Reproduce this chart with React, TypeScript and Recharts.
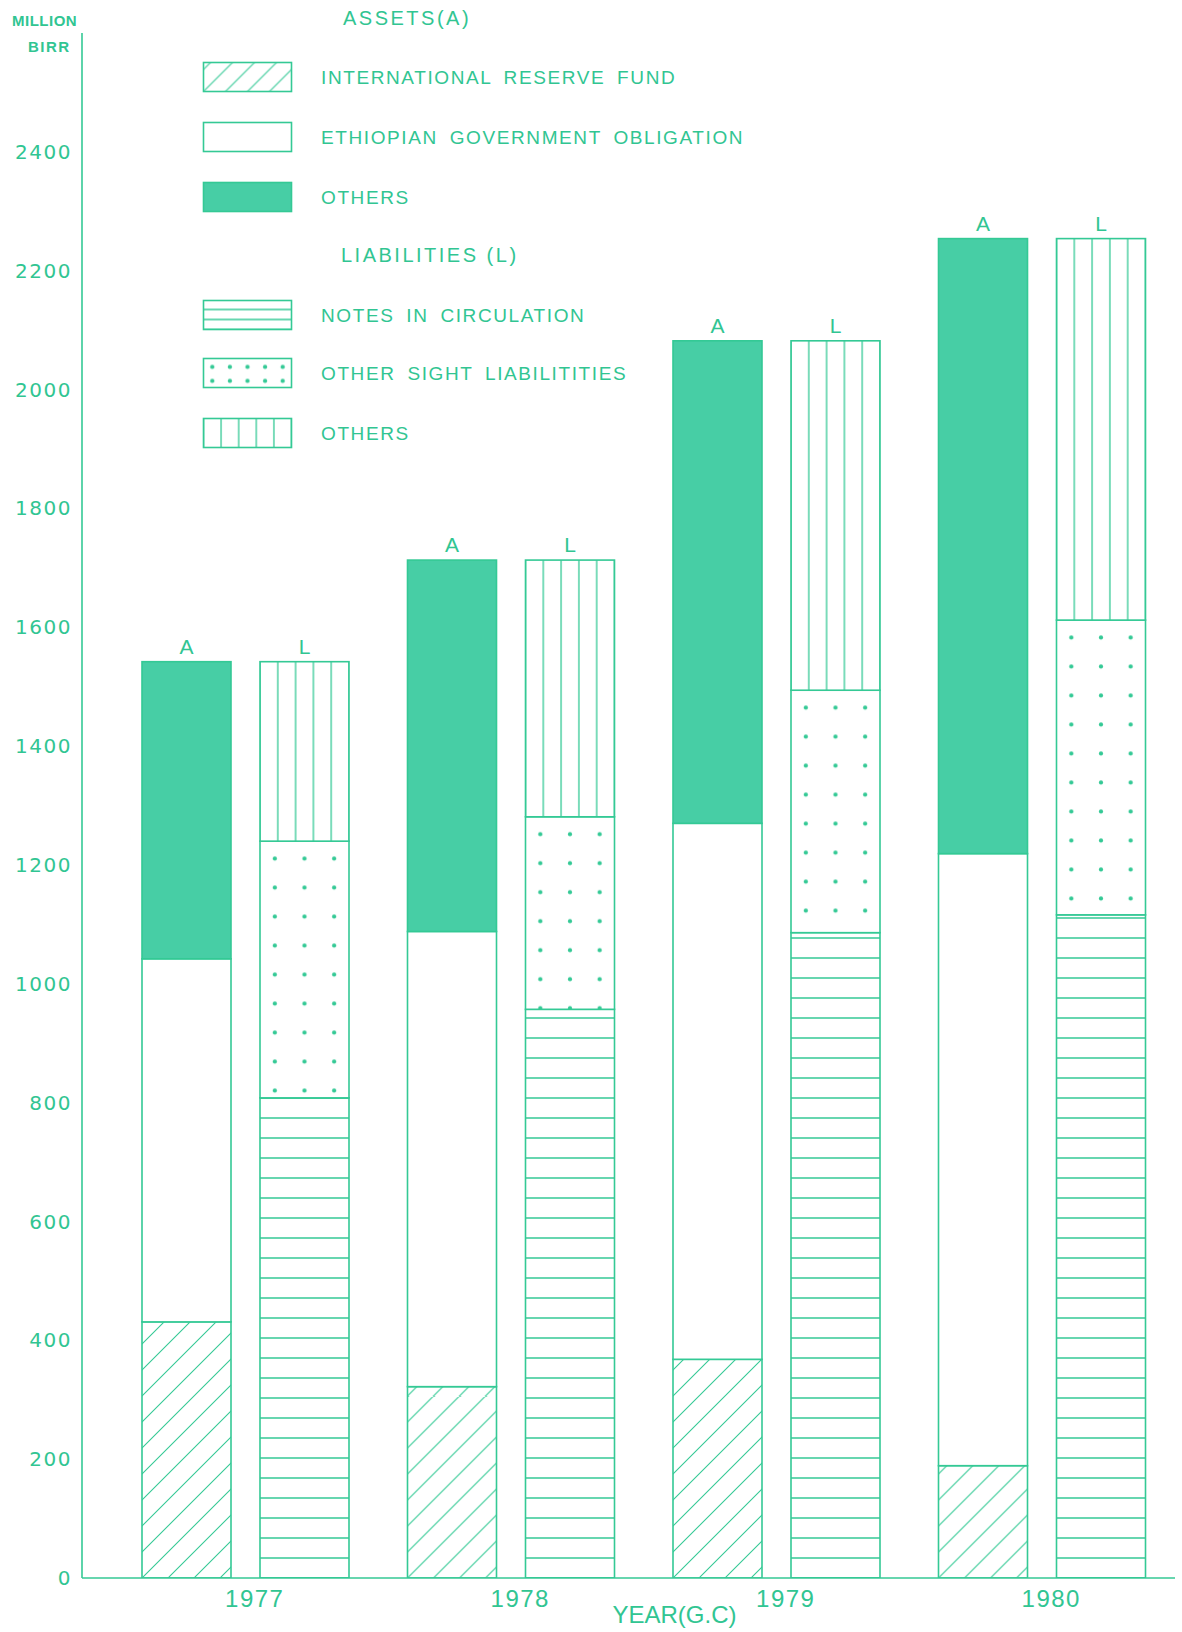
import { BarChart, Bar, XAxis, YAxis, LabelList } from 'recharts';

const YEARS = ['1977', '1978', '1979', '1980'];
// assets (A)
const RESERVE_FUND = [431, 322, 368, 189];
const GOVT_OBLIGATION = [611, 766, 902, 1030];
const OTHER_ASSETS = [500, 625, 812, 1035];
// liabilities (L)
const NOTES = [808, 957, 1086, 1116];
const SIGHT_LIAB = [432, 324, 408, 496];
const OTHER_LIAB = [302, 432, 588, 642];
const Y_TICKS = [0, 200, 400, 600, 800, 1000, 1200, 1400, 1600, 1800, 2000, 2200, 2400];

const LINE = '#34c995';
const TEXT = '#31c592';
const SOLID = '#47cea5';
const FONT = '"Liberation Sans", Arial, sans-serif';

const data = YEARS.map((year, i) => ({
  year,
  reserve: RESERVE_FUND[i],
  obligation: GOVT_OBLIGATION[i],
  otherAssets: OTHER_ASSETS[i],
  notes: NOTES[i],
  sight: SIGHT_LIAB[i],
  otherLiab: OTHER_LIAB[i],
}));

type Kind = 'hatch' | 'blank' | 'solid' | 'hlines' | 'dots' | 'vlines';

function PatternRect({ kind, x, y, width, height, uid, cols = 3, step = 20, row = 29, hatch = 26 }: any) {
  if (!width || !height) return null;
  const id = `pat-${uid}`;
  const sw = 1.3;
  let pattern: any = null;
  if (kind === 'hatch') {
    const s = hatch;
    pattern = (
      <pattern id={id} patternUnits="userSpaceOnUse" x={x} y={y + height} width={s} height={s}>
        <path d={`M0,${s} L${s},0 M${-s / 4},${s / 4} L${s / 4},${-s / 4} M${(3 * s) / 4},${(5 * s) / 4} L${(5 * s) / 4},${(3 * s) / 4}`} stroke={LINE} strokeWidth={1.1} />
      </pattern>
    );
  } else if (kind === 'hlines') {
    pattern = (
      <pattern id={id} patternUnits="userSpaceOnUse" x={x} y={y + height - step / 2} width={width} height={step}>
        <line x1={0} y1={step / 2} x2={width} y2={step / 2} stroke={LINE} strokeWidth={sw} />
      </pattern>
    );
  } else if (kind === 'vlines') {
    const w = width / 5;
    pattern = (
      <pattern id={id} patternUnits="userSpaceOnUse" x={x - w / 2} y={y} width={w} height={height}>
        <line x1={w / 2} y1={0} x2={w / 2} y2={height} stroke={LINE} strokeWidth={sw} />
      </pattern>
    );
  } else if (kind === 'dots') {
    const w = width / cols;
    pattern = (
      <pattern id={id} patternUnits="userSpaceOnUse" x={x} y={y} width={w} height={row}>
        <circle cx={w / 2} cy={row * 0.6} r={2.1} fill={LINE} />
      </pattern>
    );
  }
  const fill = kind === 'solid' ? SOLID : kind === 'blank' ? '#ffffff' : `url(#${id})`;
  return (
    <g>
      {pattern && <defs>{pattern}</defs>}
      {pattern && <rect x={x} y={y} width={width} height={height} fill="#ffffff" />}
      <rect x={x} y={y} width={width} height={height} fill={fill} stroke={LINE} strokeWidth={1.6} />
    </g>
  );
}

const shapeOf = (kind: Kind) => (p: any) => (
  <PatternRect kind={kind} x={p.x} y={p.y} width={p.width} height={p.height} uid={`${kind}-${p.index}`} />
);

const LEGEND_ITEMS = [
  { kind: 'hatch', label: 'INTERNATIONAL RESERVE FUND', top: 62 },
  { kind: 'blank', label: 'ETHIOPIAN GOVERNMENT OBLIGATION', top: 122 },
  { kind: 'solid', label: 'OTHERS', top: 182 },
  { kind: 'hlines', label: 'NOTES IN CIRCULATION', top: 300 },
  { kind: 'dots', label: 'OTHER SIGHT LIABILITITIES', top: 358 },
  { kind: 'vlines', label: 'OTHERS', top: 418 },
];

function ChartLegend() {
  const title: any = { position: 'absolute', color: TEXT, fontFamily: FONT, fontSize: 20, letterSpacing: 2.5, lineHeight: '24px', whiteSpace: 'nowrap' };
  return (
    <div style={{ position: 'absolute', left: 0, top: 0 }}>
      <div style={{ ...title, left: 343, top: 6 }}>ASSETS(A)</div>
      <div style={{ ...title, left: 341, top: 243 }}>LIABILITIES (L)</div>
      {LEGEND_ITEMS.map((it) => (
        <div key={it.label + it.top} style={{ position: 'absolute', left: 202, top: it.top - 1 }}>
          <svg width={92} height={32} style={{ position: 'absolute', left: 0, top: 0 }}>
            <PatternRect kind={it.kind} x={1.5} y={1.5} width={88} height={29} uid={`lg-${it.top}`} cols={5} step={10} row={14} hatch={22} />
          </svg>
          <div
            style={{
              position: 'absolute', left: 119, top: 1, lineHeight: '31px', whiteSpace: 'nowrap',
              color: TEXT, fontFamily: FONT, fontSize: 19, letterSpacing: 1.6, wordSpacing: 5,
            }}
          >
            {it.label}
          </div>
        </div>
      ))}
    </div>
  );
}

export default function App() {
  return (
    <div style={{ position: 'absolute', left: 0, top: 0, width: 1182, height: 1632, background: '#fff' }}>
      <BarChart width={1182} height={1632} data={data} margin={{ top: 33, right: 7, bottom: 0, left: 0 }} barGap={29} barSize={89}>
        <XAxis
          dataKey="year"
          height={54}
          padding={{ left: 31, right: 0 }}
          axisLine={{ stroke: LINE, strokeWidth: 1.6 }}
          tickLine={false}
          tickSize={0}
          tickMargin={12}
          tick={{ fill: TEXT, fontSize: 24, fontFamily: FONT, dx: 9, letterSpacing: 1.5 }}
          label={{ value: 'YEAR(G.C)', position: 'insideBottom', offset: 9, dx: 46, fill: TEXT, fontSize: 24, fontFamily: FONT }}
        />
        <YAxis
          width={82}
          domain={[0, 2600]}
          ticks={Y_TICKS}
          interval={0}
          allowDataOverflow
          axisLine={{ stroke: LINE, strokeWidth: 1.6 }}
          tickLine={false}
          tickSize={0}
          tickMargin={10}
          tick={{ fill: TEXT, fontSize: 20, fontFamily: '"DejaVu Sans", sans-serif', letterSpacing: 1.5 }}
        />
        <Bar dataKey="reserve" stackId="a" shape={shapeOf('hatch')} isAnimationActive={false} />
        <Bar dataKey="obligation" stackId="a" shape={shapeOf('blank')} isAnimationActive={false} />
        <Bar dataKey="otherAssets" stackId="a" shape={shapeOf('solid')} isAnimationActive={false}>
          <LabelList position="top" offset={8} formatter={() => 'A'} fill={TEXT} fontSize={21} fontFamily={FONT} />
        </Bar>
        <Bar dataKey="notes" stackId="l" shape={shapeOf('hlines')} isAnimationActive={false} />
        <Bar dataKey="sight" stackId="l" shape={shapeOf('dots')} isAnimationActive={false} />
        <Bar dataKey="otherLiab" stackId="l" shape={shapeOf('vlines')} isAnimationActive={false}>
          <LabelList position="top" offset={8} formatter={() => 'L'} fill={TEXT} fontSize={21} fontFamily={FONT} />
        </Bar>
      </BarChart>
      <div style={{ position: 'absolute', left: 12, top: 11, color: TEXT, fontFamily: FONT, fontSize: 15, fontWeight: 'bold', lineHeight: '20px', letterSpacing: 0.5 }}>MILLION</div>
      <div style={{ position: 'absolute', left: 28, top: 37, color: TEXT, fontFamily: FONT, fontSize: 15, fontWeight: 'bold', lineHeight: '20px', letterSpacing: 1.5 }}>BIRR</div>
      <ChartLegend />
    </div>
  );
}
